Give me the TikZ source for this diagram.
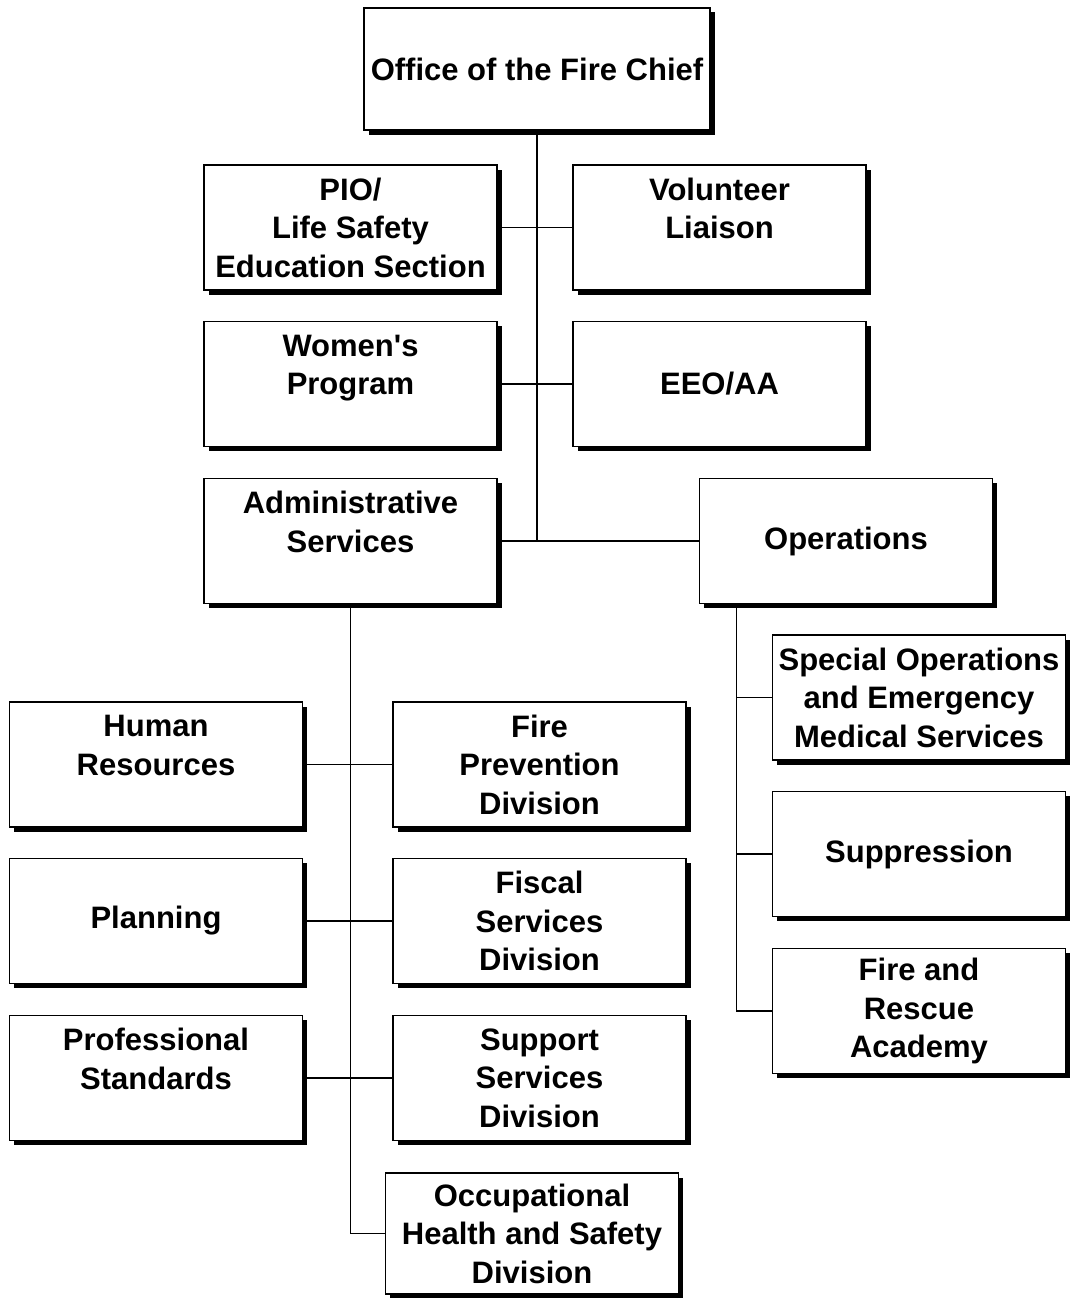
\documentclass[tikz,border=0pt]{standalone}
\usepackage{fontspec}
\setmainfont{Liberation Sans}
\usetikzlibrary{positioning,shadows}
\tikzset{unit/.style={draw=black,line width=1.8pt,fill=white,minimum width=293pt,minimum height=125pt,align=center,inner sep=2pt,outer sep=0pt,font=\bfseries\fontsize{31}{38.5}\selectfont,drop shadow={shadow xshift=4.5pt,shadow yshift=-4.5pt,fill=black,opacity=1}},link/.style={draw=black,line width=1.8pt}}

\begin{document}
\begin{tikzpicture}[x=1pt,y=-1pt,node distance=32pt and 76pt]
\useasboundingbox (0,0) rectangle (1069,1298);
\node[unit,minimum width=346pt,minimum height=122pt] (chief) at (537,69) {Office of the Fire Chief};
\node[unit] (pio) at (350.5,227.5) {PIO/\\Life Safety\\Education Section};
\node[unit,right=of pio] (vol) {Volunteer\\Liaison\\\mbox{}};
\node[unit] (women) at (350.5,384) {Women\textquotesingle s\\Program\\\mbox{}};
\node[unit,right=of women] (eeo) {EEO/AA};
\node[unit] (admin) at (350.5,541) {Administrative\\Services\\\mbox{}};
\node[unit] (ops) at (846,541) {Operations};
\node[unit] (spec) at (919,697.5) {Special Operations\\and Emergency\\Medical Services};
\node[unit] (supp) at (919,854) {Suppression};
\node[unit] (acad) at (919,1011) {Fire and\\Rescue\\Academy};
\node[unit] (hr) at (156,764.5) {Human\\Resources\\\mbox{}};
\node[unit] (prev) at (539.5,764.5) {Fire\\Prevention\\Division};
\node[unit] (plan) at (156,921) {Planning};
\node[unit] (fisc) at (539.5,921) {Fiscal\\Services\\Division};
\node[unit] (prof) at (156,1078) {Professional\\Standards\\\mbox{}};
\node[unit] (supt) at (539.5,1078) {Support\\Services\\Division};
\node[unit,minimum height=121pt] (occ) at (532,1233.5) {Occupational\\Health and Safety\\Division};
% chief's office
\draw[link] (chief.south) -- (chief.south |- ops.west);
\draw[link] (pio.east) -- (vol.west);
\draw[link] (women.east) -- (eeo.west);
\draw[link] (admin.east) -- (ops.west);
% administrative services
\draw[link] (admin.south) |- (occ.west);
\foreach \a/\b in {hr/prev,plan/fisc,prof/supt}\draw[link] (\a.east) -- (\b.west);
% operations
\coordinate (opsdown) at ([xshift=37pt]ops.south west);
\draw[link] (opsdown) |- (acad.west);
\foreach \x in {spec,supp}\draw[link] (opsdown |- \x.west) -- (\x.west);
\end{tikzpicture}
\end{document}
